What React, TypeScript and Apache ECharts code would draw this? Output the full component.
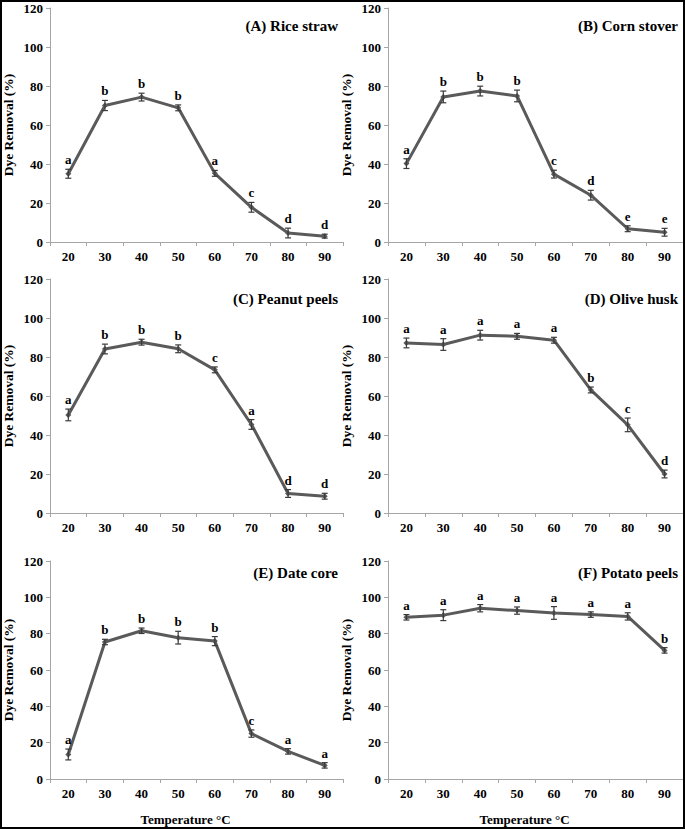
import React, { useEffect, useRef } from "react";
import * as echarts from "echarts";

const temps = ["20", "30", "40", "50", "60", "70", "80", "90"];
const yTicks = [0, 20, 40, 60, 80, 100, 120];

const riceMean = [35, 70, 74.3, 68.8, 35.2, 17.8, 4.6, 3];
const riceErr = [2.3, 2.6, 2, 1.5, 1.5, 2.5, 2.5, 1];
const riceLetters = ["a", "b", "b", "b", "a", "c", "d", "d"];

const cornMean = [40.2, 74.4, 77.4, 74.9, 34.8, 24, 6.8, 5];
const cornErr = [2.5, 3, 2.5, 3, 2, 2.5, 1.5, 2];
const cornLetters = ["a", "b", "b", "b", "c", "d", "e", "e"];

const peanutMean = [50.3, 84.1, 87.6, 84.2, 73.4, 45.4, 10, 8.6];
const peanutErr = [3, 2.5, 1.5, 2, 1.5, 2.5, 2, 1.5];
const peanutLetters = ["a", "b", "b", "b", "c", "a", "d", "d"];

const oliveMean = [87.2, 86.4, 91.2, 90.6, 88.6, 63.1, 45.2, 20];
const oliveErr = [2.5, 3, 2.5, 1.5, 1.5, 1.5, 3.5, 2];
const oliveLetters = ["a", "a", "a", "a", "a", "b", "c", "d"];

const dateMean = [13.5, 75.4, 81.6, 77.8, 75.9, 25, 15.2, 7.5];
const dateErr = [3, 1.5, 1.5, 3.5, 2.5, 2, 1.5, 1.5];
const dateLetters = ["a", "b", "b", "b", "b", "c", "a", "a"];

const potatoMean = [89, 90.2, 94, 92.7, 91.4, 90.5, 89.5, 70.8];
const potatoErr = [1.5, 3, 2, 2, 3.5, 1.5, 2, 1.5];
const potatoLetters = ["a", "a", "a", "a", "a", "a", "a", "b"];

const panelTitles = [
  "(A) Rice straw",
  "(B) Corn stover",
  "(C) Peanut peels",
  "(D) Olive husk",
  "(E) Date core",
  "(F) Potato peels",
];
const yName = "Dye Removal (%)";
const xName = "Temperature °C";

const panels = [
  { mean: riceMean, err: riceErr, letters: riceLetters },
  { mean: cornMean, err: cornErr, letters: cornLetters },
  { mean: peanutMean, err: peanutErr, letters: peanutLetters },
  { mean: oliveMean, err: oliveErr, letters: oliveLetters },
  { mean: dateMean, err: dateErr, letters: dateLetters },
  { mean: potatoMean, err: potatoErr, letters: potatoLetters },
];

const FONT = '"Liberation Serif", "Times New Roman", serif';
const W = 685;
const H = 829;

const grids = [
  { left: 49, top: 8, width: 294, height: 234 },
  { left: 388, top: 8, width: 295, height: 234 },
  { left: 49, top: 279, width: 294, height: 234 },
  { left: 388, top: 279, width: 295, height: 234 },
  { left: 49, top: 561, width: 294, height: 218 },
  { left: 388, top: 561, width: 295, height: 218 },
];

export default function App() {
  const ref = useRef<HTMLDivElement>(null);
  useEffect(() => {
    if (!ref.current) return;
    const chart = echarts.init(ref.current, null, { renderer: "svg" });
    const axisGray = "#a6a6a6";
    const lineGray = "#5a5a5a";

    const xAxes = grids.map((g, i) => ({
      type: "category",
      gridIndex: i,
      data: temps,
      boundaryGap: true,
      axisLine: { show: true, lineStyle: { color: axisGray, width: 1 } },
      axisTick: { show: true, length: 4, lineStyle: { color: axisGray } },
      axisLabel: {
        color: "#000",
        fontFamily: FONT,
        fontWeight: "bold",
        fontSize: 13,
        margin: 8,
      },
      name: i >= 4 ? xName : "",
      nameLocation: "middle",
      nameGap: 34,
      nameTextStyle: {
        color: "#000",
        fontFamily: FONT,
        fontWeight: "bold",
        fontSize: 13,
        padding: [0, 22, 0, 0],
      },
      splitLine: { show: false },
    }));

    const yAxes = grids.map((g, i) => ({
      type: "value",
      gridIndex: i,
      min: yTicks[0],
      max: yTicks[yTicks.length - 1],
      interval: 20,
      axisLine: { show: true, lineStyle: { color: axisGray, width: 1 } },
      axisTick: { show: true, length: 4, lineStyle: { color: axisGray } },
      axisLabel: {
        color: "#000",
        fontFamily: FONT,
        fontWeight: "bold",
        fontSize: 13,
        margin: 7,
      },
      splitLine: { show: false },
      name: yName,
      nameLocation: "middle",
      nameGap: 35,
      nameRotate: 90,
      nameTextStyle: {
        color: "#000",
        fontFamily: FONT,
        fontWeight: "bold",
        fontSize: 13.5,
      },
    }));

    const series: any[] = [];
    panels.forEach((p, i) => {
      series.push({
        type: "line",
        xAxisIndex: i,
        yAxisIndex: i,
        data: p.mean,
        symbol: "diamond",
        symbolSize: 6,
        showSymbol: true,
        itemStyle: { color: lineGray },
        lineStyle: { color: lineGray, width: 3 },
        z: 2,
      });
      series.push({
        type: "custom",
        xAxisIndex: i,
        yAxisIndex: i,
        data: p.mean.map((m, k) => [k, m, p.err[k]]),
        z: 3,
        renderItem: (params: any, api: any) => {
          const k = api.value(0);
          const m = api.value(1);
          const e = api.value(2);
          const top = api.coord([k, m + e]);
          const bot = api.coord([k, m - e]);
          const x = top[0];
          const st = { stroke: "#3a3a3a", lineWidth: 1.2 };
          return {
            type: "group",
            children: [
              { type: "line", shape: { x1: x, y1: top[1], x2: x, y2: bot[1] }, style: st },
              { type: "line", shape: { x1: x - 3, y1: top[1], x2: x + 3, y2: top[1] }, style: st },
              { type: "line", shape: { x1: x - 3, y1: bot[1], x2: x + 3, y2: bot[1] }, style: st },
              {
                type: "text",
                x: x,
                y: top[1] - 3,
                style: {
                  text: p.letters[params.dataIndex],
                  align: "center",
                  verticalAlign: "bottom",
                  fontFamily: FONT,
                  fontWeight: "bold",
                  fontSize: 13,
                  fill: "#000",
                },
              },
            ],
          };
        },
      });
    });

    const titles = grids.map((g, i) => ({
      text: panelTitles[i],
      right: W - (g.left + g.width) + (i % 2 === 0 ? 5 : 5),
      top: g.top + (i < 2 ? 10 : i < 4 ? 12 : 4),
      padding: 0,
      textStyle: {
        color: "#000",
        fontFamily: FONT,
        fontWeight: "bold",
        fontSize: 15,
      },
    }));

    chart.setOption({
      animation: false,
      backgroundColor: "#fff",
      title: titles,
      grid: grids.map((g) => ({ ...g, containLabel: false })),
      xAxis: xAxes,
      yAxis: yAxes,
      series,
      graphic: [
        {
          type: "rect",
          shape: { x: 1, y: 1, width: W - 2, height: H - 2 },
          style: { fill: "none", stroke: "#000", lineWidth: 2 },
          z: 100,
        },
      ],
    });
    return () => chart.dispose();
  }, []);
  return (
    <div
      ref={ref}
      style={{ position: "fixed", left: 0, top: 0, width: W, height: H, background: "#fff" }}
    />
  );
}
